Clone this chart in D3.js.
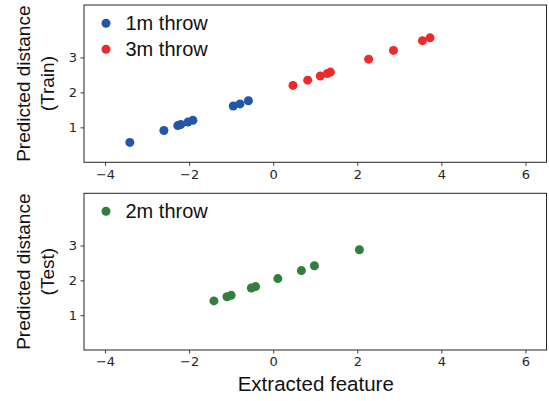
<!DOCTYPE html>
<html><head><meta charset="utf-8">
<script src="https://cdn.jsdelivr.net/npm/d3@7"></script>
<style>
html,body{margin:0;padding:0;background:#fff;}
svg{display:block;}
</style></head>
<body>
<svg id="c" width="549" height="401"></svg>
<script>
// ---- data ----
const xTicks = [-4, -2, 0, 2, 4, 6];
const yTicks = [1, 2, 3];
const train1mX = [-3.41, -2.60, -2.27, -2.20, -2.03, -1.91, -0.95, -0.79, -0.59];
const train1mY = [0.57, 0.91, 1.05, 1.08, 1.15, 1.20, 1.61, 1.67, 1.76];
const train3mX = [0.47, 0.82, 1.12, 1.29, 1.36, 2.27, 2.86, 3.55, 3.73];
const train3mY = [2.20, 2.35, 2.47, 2.54, 2.58, 2.95, 3.20, 3.48, 3.56];
const test2mX = [-1.41, -1.10, -1.00, -0.52, -0.42, 0.11, 0.67, 0.98, 2.05];
const test2mY = [1.41, 1.53, 1.57, 1.78, 1.82, 2.05, 2.28, 2.42, 2.88];
const seriesNames = ["1m throw", "3m throw", "2m throw"];
const colors = ["#2355a8", "#ee2a2a", "#327e3d"];
const yLabels = [["Predicted distance", "(Train)"], ["Predicted distance", "(Test)"]];
const xLabel = "Extracted feature";

const svg = d3.select("#c");
const left = 84, right = 546.5;
const panels = [
  {top: 5, bottom: 162.3, series: [[train1mX, train1mY, 0], [train3mX, train3mY, 1]], ylab: yLabels[0], legY: 23.3},
  {top: 193.3, bottom: 350, series: [[test2mX, test2mY, 2]], ylab: yLabels[1], legY: 211.3}
];
const x = d3.scaleLinear().domain([-4.5, 6.5]).range([left, right]);
const tickFont = "'DejaVu Sans', sans-serif";
const labFont = "'Liberation Sans', Arial, sans-serif";

panels.forEach((p, i) => {
  const y = d3.scaleLinear().domain([0, 4.5]).range([p.bottom, p.top]);
  const g = svg.append("g");
  const xa = g.append("g").attr("transform", `translate(0,${p.bottom})`)
    .call(d3.axisBottom(x).tickValues(xTicks).tickSizeOuter(0).tickSize(3.5).tickPadding(3.5)
      .tickFormat(d => d < 0 ? "\u2212" + Math.abs(d) : String(d)));
  const ya = g.append("g").attr("transform", `translate(${left},0)`)
    .call(d3.axisLeft(y).tickValues(yTicks).tickSizeOuter(0).tickSize(3.5).tickPadding(3.5)
      .tickFormat(d3.format("d")));
  [xa, ya].forEach(a => {
    a.selectAll("text").attr("font-family", tickFont).attr("font-size", 13).attr("fill", "#262626");
    a.selectAll("line").attr("stroke", "#262626").attr("stroke-width", 0.9);
    a.select(".domain").remove();
  });
  g.append("rect").attr("x", left).attr("y", p.top).attr("width", right - left).attr("height", p.bottom - p.top)
    .attr("fill", "none").attr("stroke", "#262626").attr("stroke-width", 1);
  p.series.forEach(([xs, ys, ci]) => {
    g.append("g").selectAll("circle").data(xs.map((v, k) => [v, ys[k]])).join("circle")
      .attr("cx", d => x(d[0])).attr("cy", d => y(d[1])).attr("r", 4.5).attr("fill", colors[ci]);
  });
  p.series.forEach(([xs, ys, ci], k) => {
    const ly = p.legY + k * 26;
    g.append("circle").attr("cx", 106).attr("cy", ly).attr("r", 4.5).attr("fill", colors[ci]);
    g.append("text").attr("x", 125.5).attr("y", ly).attr("dy", "0.35em")
      .attr("font-family", labFont).attr("font-size", 20).attr("fill", "#111").text(seriesNames[ci]);
  });
  const cy = (p.top + p.bottom) / 2;
  p.ylab.forEach((t, k) => {
    g.append("text").attr("transform", `translate(${k === 0 ? 23.5 : 47.5},${cy}) rotate(-90)`)
      .attr("text-anchor", "middle").attr("dy", "0.35em")
      .attr("font-family", labFont).attr("font-size", 19).attr("fill", "#111").text(t);
  });
});
svg.append("text").attr("x", (left + right) / 2 + 0.5).attr("y", 384.3).attr("dy", "0.35em")
  .attr("text-anchor", "middle").attr("font-family", labFont).attr("font-size", 20.5).attr("fill", "#111").text(xLabel);
</script>
</body></html>
